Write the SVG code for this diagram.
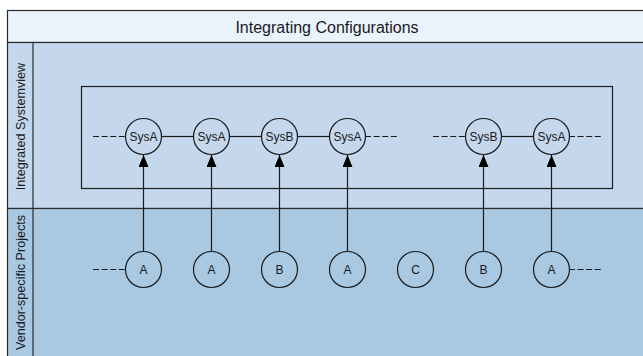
<svg xmlns="http://www.w3.org/2000/svg" width="643" height="356" viewBox="0 0 643 356">
  <style>
    .frame { stroke: #2b2b2b; stroke-width: 1.2; }
    .lbl { font-family: "Liberation Sans", Arial, sans-serif; font-size: 12px; fill: #1a1a1a; text-anchor: middle; dominant-baseline: central; }
    .lane { font-size: 12.6px; }
    .title { font-family: "Liberation Sans", Arial, sans-serif; font-size: 16px; fill: #1a1a1a; text-anchor: middle; }
    .node circle { fill: none; stroke: #1a1a1a; stroke-width: 1.2; }
    .link { stroke: #1a1a1a; stroke-width: 1.2; fill: none; }
    .dash { stroke: #1a1a1a; stroke-width: 1.2; stroke-dasharray: 6 2.6; fill: none; }
  </style>
  <defs>
    <marker id="tri" viewBox="0 0 12 10" refX="12" refY="5" markerWidth="12" markerHeight="10" markerUnits="userSpaceOnUse" orient="auto">
      <path d="M0,0 L12,5 L0,10 Z" fill="#000"/>
    </marker>
  </defs>

  <rect width="643" height="356" fill="#ffffff"/>

  <!-- pool -->
  <g id="pool">
    <rect class="frame" x="7.5" y="10.5" width="650" height="32" fill="#eaf2fc"/>
    <text class="title" x="327" y="33">Integrating Configurations</text>
    <rect class="frame" x="7.5" y="42.5" width="650" height="166" fill="#c4d7ed"/>
    <rect class="frame" x="7.5" y="208.5" width="650" height="160" fill="#a9c8e2"/>
    <line class="frame" x1="33" y1="42.5" x2="33" y2="368"/>
    <text class="lbl lane" transform="translate(20.5,126.5) rotate(-90)">Integrated Systemview</text>
    <text class="lbl lane" transform="translate(20.5,282.5) rotate(-90)">Vendor-specific Projects</text>
  </g>

  <!-- integrated configuration box -->
  <g id="config-box">
    <rect class="link" x="81.5" y="86.5" width="531" height="102"/>
  </g>

  <!-- connectors -->
  <g id="connectors">
    <line class="dash" x1="93" y1="136.5" x2="125" y2="136.5"/>
    <line class="link" x1="161" y1="136.5" x2="193" y2="136.5"/>
    <line class="link" x1="229" y1="136.5" x2="261" y2="136.5"/>
    <line class="link" x1="297" y1="136.5" x2="329" y2="136.5"/>
    <line class="dash" x1="365" y1="136.5" x2="398" y2="136.5"/>
    <line class="dash" x1="433" y1="136.5" x2="465" y2="136.5"/>
    <line class="link" x1="501" y1="136.5" x2="533" y2="136.5"/>
    <line class="dash" x1="569" y1="136.5" x2="601" y2="136.5"/>

    <line class="dash" x1="93" y1="269.5" x2="125" y2="269.5"/>
    <line class="dash" x1="569" y1="269.5" x2="601" y2="269.5"/>

    <line class="link" x1="143.5" y1="251.5" x2="143.5" y2="155" marker-end="url(#tri)"/>
    <line class="link" x1="211.5" y1="251.5" x2="211.5" y2="155" marker-end="url(#tri)"/>
    <line class="link" x1="279.5" y1="251.5" x2="279.5" y2="155" marker-end="url(#tri)"/>
    <line class="link" x1="347.5" y1="251.5" x2="347.5" y2="155" marker-end="url(#tri)"/>
    <line class="link" x1="483.5" y1="251.5" x2="483.5" y2="155" marker-end="url(#tri)"/>
    <line class="link" x1="551.5" y1="251.5" x2="551.5" y2="155" marker-end="url(#tri)"/>
  </g>

  <!-- integrated system nodes -->
  <g id="sys1" class="node"><circle cx="143.5" cy="136.5" r="18"/><text class="lbl" x="143.5" y="137">SysA</text></g>
  <g id="sys2" class="node"><circle cx="211.5" cy="136.5" r="18"/><text class="lbl" x="211.5" y="137">SysA</text></g>
  <g id="sys3" class="node"><circle cx="279.5" cy="136.5" r="18"/><text class="lbl" x="279.5" y="137">SysB</text></g>
  <g id="sys4" class="node"><circle cx="347.5" cy="136.5" r="18"/><text class="lbl" x="347.5" y="137">SysA</text></g>
  <g id="sys5" class="node"><circle cx="483.5" cy="136.5" r="18"/><text class="lbl" x="483.5" y="137">SysB</text></g>
  <g id="sys6" class="node"><circle cx="551.5" cy="136.5" r="18"/><text class="lbl" x="551.5" y="137">SysA</text></g>

  <!-- vendor project nodes -->
  <g id="proj1" class="node"><circle cx="143.5" cy="269.5" r="18"/><text class="lbl" x="143.5" y="270">A</text></g>
  <g id="proj2" class="node"><circle cx="211.5" cy="269.5" r="18"/><text class="lbl" x="211.5" y="270">A</text></g>
  <g id="proj3" class="node"><circle cx="279.5" cy="269.5" r="18"/><text class="lbl" x="279.5" y="270">B</text></g>
  <g id="proj4" class="node"><circle cx="347.5" cy="269.5" r="18"/><text class="lbl" x="347.5" y="270">A</text></g>
  <g id="proj5" class="node"><circle cx="415.5" cy="269.5" r="18"/><text class="lbl" x="415.5" y="270">C</text></g>
  <g id="proj6" class="node"><circle cx="483.5" cy="269.5" r="18"/><text class="lbl" x="483.5" y="270">B</text></g>
  <g id="proj7" class="node"><circle cx="551.5" cy="269.5" r="18"/><text class="lbl" x="551.5" y="270">A</text></g>
</svg>
